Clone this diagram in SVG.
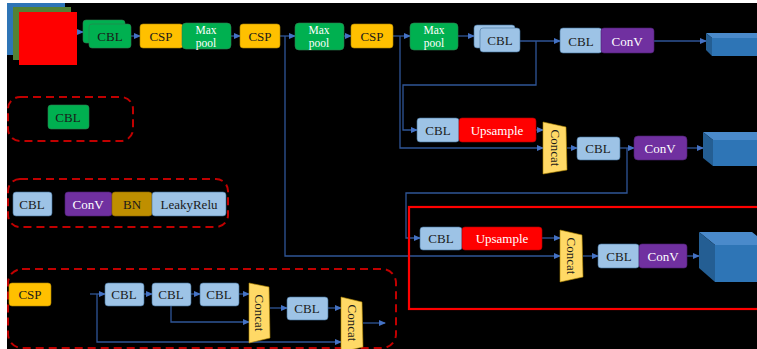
<svg xmlns="http://www.w3.org/2000/svg" width="757" height="349" viewBox="0 0 757 349">
<style>
.t{font-family:"Liberation Serif","DejaVu Serif",serif;font-size:13px;text-anchor:middle;dominant-baseline:central;fill:#1a1a1a}
.mp{font-size:11.5px}
.w{fill:#ffffff}
.lb{fill:#9DC3E6;stroke:#41719C;stroke-width:0.6}
.gr{fill:#00B050;stroke:#2E7D4F;stroke-width:0.6}
.ye{fill:#FFC000;stroke:#B08600;stroke-width:0.6}
.pu{fill:#7030A0;stroke:#4B2070;stroke-width:0.6}
.rd{fill:#FF0000;stroke:#B00000;stroke-width:0.6}
.bn{fill:#BF8F00;stroke:#8A6700;stroke-width:0.6}
.cc{fill:#FFD966;stroke:#B08600;stroke-width:0.6}
.ln{fill:none;stroke:#2F5597;stroke-width:1.3}
.dash{fill:none;stroke:#C00000;stroke-width:2;stroke-dasharray:8,5}
.front{fill:#2E75B6}
.side{fill:#245E93}
.top{fill:#4A8ACB}
</style>
<defs>
<marker id="ah" markerUnits="userSpaceOnUse" markerWidth="7" markerHeight="6" refX="6" refY="3" orient="auto">
<path d="M0,0 L7,3 L0,6 z" fill="#4472C4"/>
</marker>
</defs>
<rect x="0" y="0" width="757" height="349" fill="#000000"/>
<rect x="0" y="0" width="757" height="3" fill="#ffffff"/>
<rect x="0" y="0" width="7" height="349" fill="#ffffff"/>

<g id="input">
<rect x="7" y="3" width="58" height="52" fill="#2E75B6"/>
<rect x="13" y="7" width="58" height="53" fill="#548235"/>
<rect x="19" y="12" width="58" height="53" fill="#FF0000"/>
</g>

<g id="connectors">
<path class="ln" d="M77,32 H83" marker-end="url(#ah)"/>
<path class="ln" d="M131,36 H140" marker-end="url(#ah)"/>
<path class="ln" d="M231,36 H240" marker-end="url(#ah)"/>
<path class="ln" d="M280,36 H295" marker-end="url(#ah)"/>
<path class="ln" d="M344,36 H351" marker-end="url(#ah)"/>
<path class="ln" d="M393,36 H410" marker-end="url(#ah)"/>
<path class="ln" d="M458,36 H474" marker-end="url(#ah)"/>
<path class="ln" d="M520,41 H560" marker-end="url(#ah)"/>
<path class="ln" d="M654,41 H706" marker-end="url(#ah)"/>
<path class="ln" d="M536,41 V85 H403 V130 H417" marker-end="url(#ah)"/>
<path class="ln" d="M400,36 V148 H543" marker-end="url(#ah)"/>
<path class="ln" d="M536,130 H543" marker-end="url(#ah)"/>
<path class="ln" d="M567,148 H577" marker-end="url(#ah)"/>
<path class="ln" d="M620,148 H634" marker-end="url(#ah)"/>
<path class="ln" d="M627,148 V193 H406 V238 H420" marker-end="url(#ah)"/>
<path class="ln" d="M687,148 H703" marker-end="url(#ah)"/>
<path class="ln" d="M285,36 V256 H560" marker-end="url(#ah)"/>
<path class="ln" d="M542,238 H560" marker-end="url(#ah)"/>
<path class="ln" d="M583,256 H598" marker-end="url(#ah)"/>
<path class="ln" d="M687,256 H699" marker-end="url(#ah)"/>
<path class="ln" d="M90,294 H105" marker-end="url(#ah)"/>
<path class="ln" d="M97,294 V342 H341" marker-end="url(#ah)"/>
<path class="ln" d="M144,294 H152" marker-end="url(#ah)"/>
<path class="ln" d="M191,294 H200" marker-end="url(#ah)"/>
<path class="ln" d="M239,294 H249" marker-end="url(#ah)"/>
<path class="ln" d="M171,306 V322 H249" marker-end="url(#ah)"/>
<path class="ln" d="M270,308 H287" marker-end="url(#ah)"/>
<path class="ln" d="M328,308 H341" marker-end="url(#ah)"/>
<path class="ln" d="M363,323 H385" marker-end="url(#ah)"/>
</g>

<g id="cbl1">
<rect class="gr" x="83" y="20" width="42" height="23" rx="3"/>
<rect class="gr" x="89" y="24" width="42" height="24" rx="3"/>
<text class="t" x="110" y="36">CBL</text>
</g>
<g id="csp1"><rect class="ye" x="140" y="24" width="43" height="24" rx="3"/><text class="t" x="161" y="36">CSP</text></g>
<g id="maxpool1"><rect class="gr" x="182" y="23" width="49" height="26" rx="4"/><text class="t w mp" x="206" y="29.5">Max</text><text class="t w mp" x="206" y="42.5">pool</text></g>
<g id="csp2"><rect class="ye" x="240" y="24" width="40" height="24" rx="3"/><text class="t" x="260" y="36">CSP</text></g>
<g id="maxpool2"><rect class="gr" x="295" y="23" width="49" height="27" rx="4"/><text class="t w mp" x="319" y="30">Max</text><text class="t w mp" x="319" y="43">pool</text></g>
<g id="csp3"><rect class="ye" x="351" y="24" width="42" height="24" rx="3"/><text class="t" x="372" y="36">CSP</text></g>
<g id="maxpool3"><rect class="gr" x="410" y="23" width="48" height="27" rx="4"/><text class="t w mp" x="434" y="30">Max</text><text class="t w mp" x="434" y="43">pool</text></g>
<g id="cbl2">
<rect class="lb" x="474" y="25" width="41" height="23" rx="3"/>
<rect class="lb" x="480" y="28" width="40" height="24" rx="3"/>
<text class="t" x="500" y="40">CBL</text>
</g>
<g id="cbl-conv1">
<rect class="lb" x="560" y="28" width="42" height="25" rx="3"/><text class="t" x="581" y="41">CBL</text>
<rect class="pu" x="601" y="28" width="53" height="25" rx="3"/><text class="t w" x="627" y="41">ConV</text>
</g>
<g id="out1">
<polygon class="top" points="706,33 760,33 760,38 712,38"/>
<polygon class="side" points="706,33 712,38 712,56 706,50"/>
<rect class="front" x="712" y="38" width="48" height="18"/>
</g>

<g id="cbl-up1">
<rect class="lb" x="417" y="118" width="42" height="24" rx="3"/><text class="t" x="438" y="130">CBL</text>
<rect class="rd" x="459" y="118" width="77" height="24" rx="3"/><text class="t w" x="497" y="130">Upsample</text>
</g>
<g id="concat1">
<polygon class="cc" points="543,122 566,127 567,170 543,174"/>
<text class="t" x="555" y="148" transform="rotate(90 555 148)" font-size="12">Concat</text>
</g>
<g id="cbl3"><rect class="lb" x="577" y="137" width="43" height="23" rx="3"/><text class="t" x="598" y="148">CBL</text></g>
<g id="conv2"><rect class="pu" x="634" y="136" width="53" height="24" rx="4"/><text class="t w" x="660" y="148">ConV</text></g>
<g id="out2">
<polygon class="top" points="703,132 760,132 760,140 713,140"/>
<polygon class="side" points="703,132 713,140 713,166 703,158"/>
<rect class="front" x="713" y="140" width="47" height="26"/>
</g>

<g id="highlight"><rect x="409" y="207" width="352" height="102" fill="none" stroke="#FF0000" stroke-width="2.2"/></g>
<g id="cbl-up2">
<rect class="lb" x="420" y="227" width="42" height="23" rx="3"/><text class="t" x="441" y="238">CBL</text>
<rect class="rd" x="462" y="227" width="80" height="23" rx="3"/><text class="t w" x="502" y="238">Upsample</text>
</g>
<g id="concat2">
<polygon class="cc" points="560,230 582,235 583,277 560,282"/>
<text class="t" x="571" y="256" transform="rotate(90 571 256)" font-size="12">Concat</text>
</g>
<g id="cbl-conv3">
<rect class="lb" x="598" y="244" width="41" height="24" rx="3"/><text class="t" x="619" y="256">CBL</text>
<rect class="pu" x="639" y="244" width="48" height="24" rx="3"/><text class="t w" x="663" y="256">ConV</text>
</g>
<g id="out3">
<polygon class="top" points="699,232 752,232 768,245 715,245"/>
<polygon class="side" points="699,232 715,245 715,282 699,268"/>
<rect class="front" x="715" y="245" width="50" height="37"/>
</g>

<g id="legend-cbl">
<rect class="dash" x="8" y="97" width="125" height="44" rx="12"/>
<rect class="gr" x="48" y="105" width="41" height="24" rx="3"/><text class="t" x="68" y="117">CBL</text>
</g>
<g id="legend-cbl-def">
<rect class="dash" x="8" y="179" width="220" height="48" rx="12"/>
<rect class="lb" x="13" y="192" width="39" height="24" rx="3"/><text class="t" x="32" y="204">CBL</text>
<rect class="pu" x="65" y="192" width="47" height="24" rx="3"/><text class="t w" x="88" y="204">ConV</text>
<rect class="bn" x="112" y="192" width="40" height="24" rx="3"/><text class="t" x="132" y="204">BN</text>
<rect class="lb" x="152" y="192" width="74" height="24" rx="3"/><text class="t" x="189" y="204">LeakyRelu</text>
</g>
<g id="legend-csp">
<rect class="dash" x="8" y="269" width="388" height="79" rx="14"/>
<rect class="ye" x="9" y="283" width="42" height="23" rx="3"/><text class="t" x="30" y="294">CSP</text>
<rect class="lb" x="105" y="283" width="39" height="23" rx="3"/><text class="t" x="124" y="294">CBL</text>
<rect class="lb" x="152" y="283" width="39" height="23" rx="3"/><text class="t" x="171" y="294">CBL</text>
<rect class="lb" x="200" y="283" width="39" height="23" rx="3"/><text class="t" x="219" y="294">CBL</text>
<polygon class="cc" points="249,283 269,287 270,338 249,343"/>
<text class="t" x="259" y="313" transform="rotate(90 259 313)" font-size="12">Concat</text>
<rect class="lb" x="287" y="297" width="41" height="23" rx="3"/><text class="t" x="307" y="308">CBL</text>
<polygon class="cc" points="341,297 362,302 363,347 341,352"/>
<text class="t" x="352" y="323" transform="rotate(90 352 323)" font-size="12">Concat</text>
</g>
</svg>
